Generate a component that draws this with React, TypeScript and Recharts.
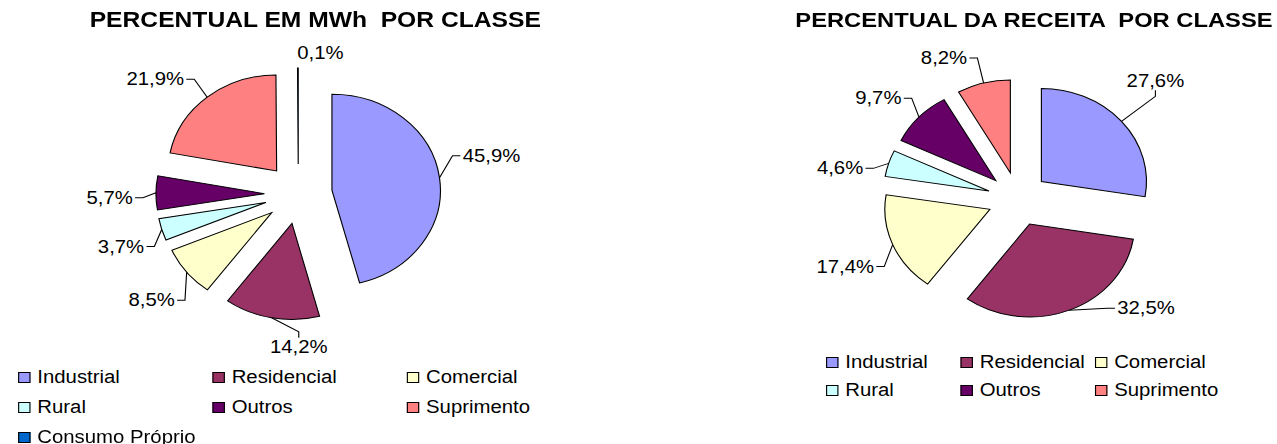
import React from "react";
import { PieChart, Pie, Cell, Legend, Sector } from "recharts";

// Percentual em MWh por classe
const CLASSES_MWH = [
  "Industrial",
  "Residencial",
  "Comercial",
  "Rural",
  "Outros",
  "Suprimento",
  "Consumo Próprio",
];
const VALUES_MWH = [45.9, 14.2, 8.5, 3.7, 5.7, 21.9, 0.1];

// Percentual da receita por classe
const CLASSES_RECEITA = [
  "Industrial",
  "Residencial",
  "Comercial",
  "Rural",
  "Outros",
  "Suprimento",
];
const VALUES_RECEITA = [27.6, 32.5, 17.4, 4.6, 9.7, 8.2];

const COLORS = ["#9999FF", "#993366", "#FFFFCC", "#CCFFFF", "#660066", "#FF8080", "#0066CC"];

// where each data label sits, relative to the outer edge of its slice (labels were moved by hand in the original)
const LABEL_OFFSET_MWH = [[46, -22], [24, 29], [-31, 28], [-36, 17], [-41, 5], [-46, -18], [20, -15]];
const LABEL_OFFSET_RECEITA = [[30, -40], [68, -2], [-42, 22], [-43, 5], [-36, -19], [-35, -25]];

// the original picture is a bit wider than tall, pies come out as ellipses
const STRETCH = 1.13;
const FONT = "'Liberation Sans', Arial, sans-serif";
const LABEL_SIZE = 18;

const fmt = (v: number) => `${v.toFixed(1).replace(".", ",")}%`;

// rough Arial widths, enough to hook the leader line on the label's edge
const textWidth = (s: string) =>
  s.split("").reduce((w, c) => w + (c === "," ? 0.278 : c === "%" ? 0.889 : 0.556), 0) * LABEL_SIZE;

// draws each slice pulled out from the centre, plus its leader line and label
const explodedSlice = (explode: number, offsets: number[][]) => (props: any) => {
  const { cx, cy, outerRadius, startAngle, endAngle, midAngle, index } = props;
  const RAD = Math.PI / 180;
  const dx = Math.cos(-midAngle * RAD);
  const dy = Math.sin(-midAngle * RAD);
  const ox = cx + explode * dx;
  const oy = cy + explode * dy;
  const x1 = ox + outerRadius * dx;
  const y1 = oy + outerRadius * dy;

  const label = fmt(Number(props.value));
  const [offX, offY] = offsets[index] || [0, 0];
  const tx = x1 + offX;
  const ty = y1 + offY;
  const w = textWidth(label);
  const left = tx - w / 2;
  const right = tx + w / 2;
  const top = ty - 7;
  const bottom = ty + 7;

  const gapX = Math.max(left - x1, 0, x1 - right);
  const gapY = Math.max(top - y1, 0, y1 - bottom);
  let leader: string | null = null;
  if (Math.hypot(gapX, gapY) > 12) {
    if (x1 > right + 5) {
      leader = `${x1},${y1} ${right + 9},${ty} ${right + 2},${ty}`;
    } else if (x1 < left - 5) {
      leader = `${x1},${y1} ${left - 9},${ty} ${left - 2},${ty}`;
    } else if (y1 > ty) {
      leader = `${x1},${y1} ${tx},${bottom + 8} ${tx},${bottom + 2}`;
    } else {
      leader = `${x1},${y1} ${tx},${top - 8} ${tx},${top - 2}`;
    }
  }

  return (
    <g>
      <Sector
        cx={ox}
        cy={oy}
        innerRadius={0}
        outerRadius={outerRadius}
        startAngle={startAngle}
        endAngle={endAngle}
        fill={COLORS[index]}
        stroke="#000"
        strokeWidth={1}
      />
      {leader && <polyline points={leader} fill="none" stroke="#000" strokeWidth={1} />}
      <text
        x={tx}
        y={ty}
        textAnchor="middle"
        dominantBaseline="central"
        fontSize={LABEL_SIZE}
        fontFamily={FONT}
        fill="#000"
      >
        {label}
      </text>
    </g>
  );
};

const makeLegend = (names: string[], cols: number, colW: number, x0: number, rowH: number) => (
  props: any
) => {
  const items = [...(props.payload || [])].sort(
    (a: any, b: any) => names.indexOf(a.value) - names.indexOf(b.value)
  );
  return (
    <div style={{ position: "relative", height: Math.ceil(items.length / cols) * rowH }}>
      {items.map((item: any, i: number) => (
        <div
          key={item.value}
          style={{
            position: "absolute",
            left: x0 + (i % cols) * colW,
            top: Math.floor(i / cols) * rowH,
            height: rowH,
            display: "flex",
            alignItems: "center",
            whiteSpace: "nowrap",
            fontSize: 18,
            fontFamily: FONT,
            color: "#000",
          }}
        >
          <span
            style={{
              display: "inline-block",
              width: 9,
              height: 9,
              background: item.color,
              border: "1px solid #000",
              marginRight: 6,
            }}
          />
          {item.value}
        </div>
      ))}
    </div>
  );
};

type ChartProps = {
  title: string;
  titleSize: number;
  names: string[];
  values: number[];
  labelOffsets: number[][];
  width: number;
  cx: number;
  cy: number;
  radius: number;
  explode: number;
  titleX: number;
  legendTop: number;
  legendCols: number;
  legendColW: number;
  legendX: number;
  legendRowH: number;
};

const ExplodedPie = (p: ChartProps) => {
  const data = p.names.map((name, i) => ({ name, value: p.values[i] }));
  return (
    <div style={{ position: "relative", width: p.width, height: 444 }}>
      <PieChart width={p.width} height={444} margin={{ top: 0, right: 0, bottom: 0, left: 0 }}>
        <Pie
          data={data}
          dataKey="value"
          nameKey="name"
          cx={p.cx}
          cy={p.cy}
          outerRadius={p.radius}
          startAngle={90}
          endAngle={-270}
          stroke="none"
          isAnimationActive={false}
          label={explodedSlice(p.explode, p.labelOffsets)}
          labelLine={false}
        >
          {data.map((_, i) => (
            <Cell key={`cell-${i}`} fill={COLORS[i]} fillOpacity={0} />
          ))}
        </Pie>
        <Legend
          content={makeLegend(p.names, p.legendCols, p.legendColW, p.legendX, p.legendRowH)}
          wrapperStyle={{ left: 0, top: p.legendTop, bottom: "auto", width: p.width }}
        />
      </PieChart>
      <div
        style={{
          position: "absolute",
          left: p.titleX - 300,
          top: 8,
          width: 600,
          textAlign: "center",
          fontFamily: FONT,
          fontWeight: "bold",
          fontSize: p.titleSize,
          lineHeight: "24px",
          whiteSpace: "pre",
          color: "#000",
        }}
      >
        {p.title}
      </div>
    </div>
  );
};

export default function App() {
  return (
    <div
      style={{
        position: "absolute",
        left: 0,
        top: 0,
        width: 1130,
        height: 444,
        transform: `scaleX(${STRETCH})`,
        transformOrigin: "0 0",
        background: "#fff",
      }}
    >
      <div style={{ position: "absolute", left: 0, top: 0 }}>
        <ExplodedPie
          title="PERCENTUAL EM MWh  POR CLASSE"
          titleSize={21.8}
          names={CLASSES_MWH}
          values={VALUES_MWH}
          labelOffsets={LABEL_OFFSET_MWH}
          width={560}
          cx={264}
          cy={194}
          radius={96}
          explode={30}
          titleX={279}
          legendTop={362}
          legendCols={3}
          legendColW={172}
          legendX={16}
          legendRowH={30}
        />
      </div>
      <div style={{ position: "absolute", left: 600, top: 0 }}>
        <ExplodedPie
          title="PERCENTUAL DA RECEITA  POR CLASSE"
          titleSize={21}
          names={CLASSES_RECEITA}
          values={VALUES_RECEITA}
          labelOffsets={LABEL_OFFSET_RECEITA}
          width={530}
          cx={301}
          cy={199}
          radius={93}
          explode={27}
          titleX={315}
          legendTop={348}
          legendCols={3}
          legendColW={119}
          legendX={131}
          legendRowH={28}
        />
      </div>
    </div>
  );
}
